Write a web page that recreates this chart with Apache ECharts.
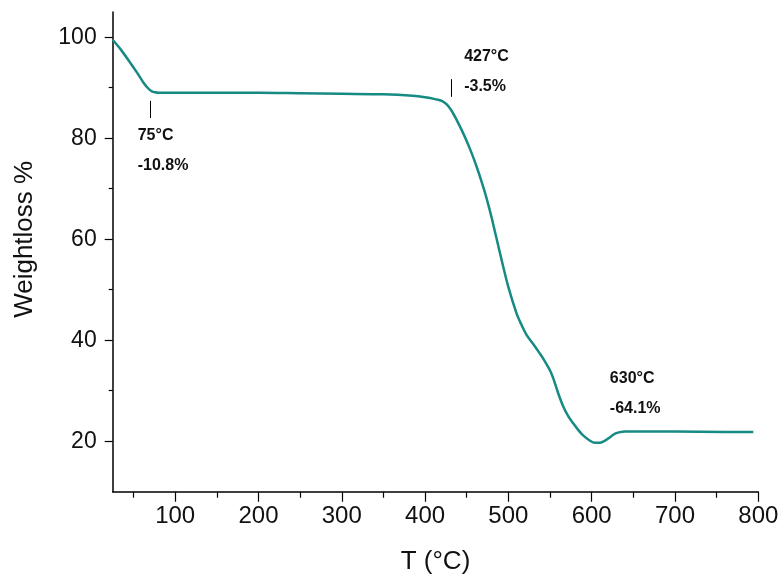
<!DOCTYPE html>
<html>
<head>
<meta charset="utf-8">
<script src="https://cdn.jsdelivr.net/npm/echarts@6/dist/echarts.min.js"></script>
<style>
html,body{margin:0;padding:0;background:#fff;}
#c{width:780px;height:576px;}
</style>
</head>
<body>
<div id="c"></div>
<script>
// Temperature (°C) and weight (%)
const temps = [25,35,45,55,62,68,72,76,80,100,150,200,250,300,350,385,400,413,420,426,432,438,444,450,456,462,468,474,480,490,500,510,515,522,530,538,542,550,554,560,566,572,578,584,590,598,604,610,616,622,628,634,640,700,760,794];
const weights = [99.5,97.5,95.2,92.8,91.0,89.8,89.3,89.1,89.0,89.0,89.0,89.0,88.9,88.8,88.7,88.4,88.1,87.7,87.4,86.7,85.4,83.6,81.6,79.4,77.0,74.3,71.3,68.0,64.2,57.2,50.5,45.2,43.3,41.0,39.2,37.3,36.3,34.0,32.4,29.4,26.8,24.9,23.5,22.2,21.1,20.1,19.7,19.7,20.1,20.8,21.5,21.8,21.9,21.9,21.8,21.8];

// Axis ticks
const xMajorTicks = [100,200,300,400,500,600,700,800];
const xMinorTicks = [50,150,250,350,450,550,650,750];
const yMajorTicks = [20,40,60,80,100];
const yMinorTicks = [30,50,70,90];

// Annotations (text, anchor in data coordinates)
const annoTexts = ['75°C','-10.8%','427°C','-3.5%','630°C','-64.1%'];
const annoX = [55.0,55.0,446.9,446.9,621.8,621.8];
const annoY = [80.5,74.5,96.25,90.3,32.45,26.4];
// Short vertical marker lines: x, yTop, yBottom
const markerX = [70.6,431.8];
const markerTop = [87.4,91.7];
const markerBottom = [84.0,88.2];

const FONT = 'Liberation Sans, Arial, sans-serif';
const chart = echarts.init(document.getElementById('c'));

const lineData = temps.map((t,i)=>[t,weights[i]]);
const annoData = annoTexts.map((s,i)=>({name:s, coord:[annoX[i],annoY[i]], value:s}));
const markerData = markerX.map((x,i)=>[{coord:[x,markerTop[i]]},{coord:[x,markerBottom[i]]}]);

const axisLineStyle = {color:'#000', width:1.5};

chart.setOption({
  animation:false,
  backgroundColor:'#fff',
  grid:{left:112.7, right:21.7, top:12, bottom:84.3, containLabel:false, outerBoundsMode:'none'},
  xAxis:[{
    type:'value', min:25, max:800, position:'bottom',
    name:'T (°C)', nameLocation:'middle', nameGap:57,
    nameTextStyle:{fontFamily:FONT, fontSize:26, color:'#111'},
    axisLine:{show:true, lineStyle:axisLineStyle, onZero:false},
    axisTick:{show:true, length:10, customValues:xMajorTicks, lineStyle:{color:'#000', width:1.2}},
    axisLabel:{show:true, customValues:xMajorTicks, margin:13, fontFamily:FONT, fontSize:24, color:'#111'},
    splitLine:{show:false}
  },{
    type:'value', min:25, max:800, position:'bottom',
    axisLine:{show:false},
    axisTick:{show:true, length:6, customValues:xMinorTicks, lineStyle:{color:'#000', width:1.2}},
    axisLabel:{show:false},
    splitLine:{show:false}
  }],
  yAxis:[{
    type:'value', min:10, max:105, position:'left',
    name:'Weightloss %', nameLocation:'middle', nameGap:75, nameRotate:90,
    nameTextStyle:{fontFamily:FONT, fontSize:26, color:'#111', padding:[0,0,0,25]},
    axisLine:{show:true, lineStyle:axisLineStyle, onZero:false},
    axisTick:{show:true, length:8, customValues:yMajorTicks, lineStyle:{color:'#000', width:1.2}},
    axisLabel:{show:true, customValues:yMajorTicks, margin:16, fontFamily:FONT, fontSize:23, color:'#111'},
    splitLine:{show:false}
  },{
    type:'value', min:10, max:105, position:'left',
    axisLine:{show:false},
    axisTick:{show:true, length:4, customValues:yMinorTicks, lineStyle:{color:'#000', width:1.2}},
    axisLabel:{show:false},
    splitLine:{show:false}
  }],
  series:[{
    type:'line', xAxisIndex:0, yAxisIndex:0,
    data:lineData, smooth:0.3, showSymbol:false, symbol:'none',
    lineStyle:{color:'#178A84', width:2.5},
    itemStyle:{color:'#178A84'},
    markPoint:{
      symbol:'circle', symbolSize:0, silent:true,
      label:{show:true, position:'inside', align:'left', verticalAlign:'middle',
        formatter:p=>p.name, fontFamily:FONT, fontSize:16, fontWeight:'bold', color:'#111'},
      data:annoData
    },
    markLine:{
      symbol:['none','none'], silent:true,
      label:{show:false},
      lineStyle:{color:'#000', width:1, type:'solid'},
      data:markerData
    }
  }]
});
</script>
</body>
</html>
